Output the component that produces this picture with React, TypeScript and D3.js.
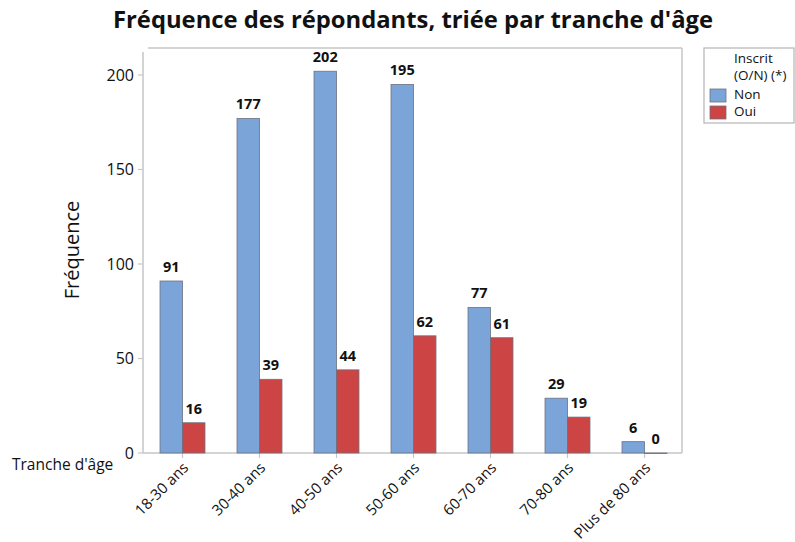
import React from "react";
import * as d3 from "d3";

const categories = ["18-30 ans", "30-40 ans", "40-50 ans", "50-60 ans", "60-70 ans", "70-80 ans", "Plus de 80 ans"];
const seriesNames = ["Non", "Oui"];
const nonValues = [91, 177, 202, 195, 77, 29, 6];
const ouiValues = [16, 39, 44, 62, 61, 19, 0];
const yTicks = [0, 50, 100, 150, 200];
const colors = ["#7ba5d9", "#cc4444"];

const W = 795, H = 542;
const FONT = "'Open Sans', 'Noto Sans', sans-serif";

export default function App() {
  const x = d3.scaleBand<string>().domain(categories).range([144, 683]).paddingInner(0.416).paddingOuter(0.208);
  const xs = d3.scaleBand<string>().domain(seriesNames).range([0, x.bandwidth()]);
  const y = d3.scaleLinear().domain([0, 200]).range([453, 75]);
  const series = [nonValues, ouiValues];
  const gray = "#c6c6c6";
  return (
    <svg width={W} height={H} style={{ position: "absolute", left: 0, top: 0, background: "#fff" }}>
      <text x={413} y={28} textAnchor="middle" fontFamily={FONT} fontWeight="bold" fontSize={23.8} fill="#111">
        Fréquence des répondants, triée par tranche d'âge
      </text>
      {/* frame */}
      <line x1={148} x2={682} y1={48} y2={48} stroke={gray} strokeWidth={1.5} />
      <line x1={682} x2={682} y1={48} y2={453} stroke={gray} strokeWidth={1.5} />
      <line x1={143} x2={143} y1={52} y2={453} stroke={gray} strokeWidth={1.5} />
      <line x1={143} x2={682} y1={453} y2={453} stroke={gray} strokeWidth={1.5} />
      {yTicks.map((t) => (
        <g key={t}>
          <line x1={138} x2={143} y1={y(t)} y2={y(t)} stroke={gray} strokeWidth={1.2} />
          <text x={134} y={y(t)} dy="0.35em" textAnchor="end" fontFamily={FONT} fontSize={16} fill="#111">{t}</text>
        </g>
      ))}
      {categories.map((c) => {
        const cx = (x(c) as number) + x.bandwidth() / 2;
        return (
          <g key={c}>
            <line x1={cx} x2={cx} y1={453} y2={458} stroke={gray} strokeWidth={1.2} />
            <text transform={`translate(${cx + 3},${465}) rotate(-45)`} textAnchor="end" dy="0.35em" fontFamily={FONT} fontSize={15} fill="#111">{c}</text>
          </g>
        );
      })}
      {series.map((vals, si) =>
        categories.map((c, i) => {
          const bx = (x(c) as number) + (xs(seriesNames[si]) as number);
          const bw = xs.bandwidth();
          const v = vals[i];
          return (
            <g key={`${si}-${c}`}>
              <rect x={bx} y={y(v)} width={bw} height={Math.max(453 - y(v), 0.5)} fill={colors[si]} stroke="#6b7280" strokeWidth={0.8} />
              <text x={bx + bw / 2} y={y(v) - 9} textAnchor="middle" fontFamily={FONT} fontWeight="bold" fontSize={14.5} fill="#111">{v}</text>
            </g>
          );
        })
      )}
      <text transform={`translate(79,${250}) rotate(-90)`} textAnchor="middle" fontFamily={FONT} fontSize={20} fill="#111">Fréquence</text>
      <text x={12} y={465} dy="0.35em" fontFamily={FONT} fontSize={15.5} fill="#111">Tranche d'âge</text>
      {/* legend */}
      <rect x={704} y={48} width={90} height={75} fill="#fff" stroke="#b5b5b5" strokeWidth={1.2} />
      <text x={734} y={58} dy="0.35em" fontFamily={FONT} fontSize={13.5} fill="#111">Inscrit</text>
      <text x={734} y={75} dy="0.35em" fontFamily={FONT} fontSize={13.5} fill="#111">(O/N) (*)</text>
      {seriesNames.map((s, i) => (
        <g key={s}>
          <rect x={710} y={89 + i * 17} width={16} height={13} fill={colors[i]} stroke="#6b7280" strokeWidth={0.8} />
          <text x={734} y={94 + i * 17} dy="0.35em" fontFamily={FONT} fontSize={13.5} fill="#111">{s}</text>
        </g>
      ))}
    </svg>
  );
}
